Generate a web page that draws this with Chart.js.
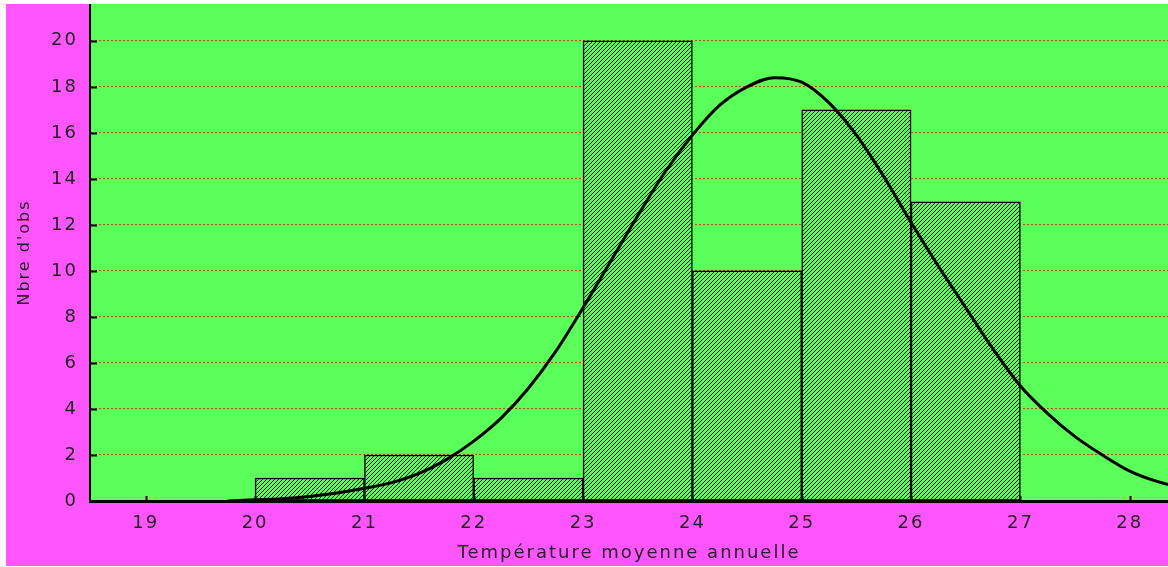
<!DOCTYPE html>
<html>
<head>
<meta charset="utf-8">
<script src="https://cdn.jsdelivr.net/npm/chart.js@4.4.1/dist/chart.umd.min.js"></script>
<style>
    body { margin: 0; background: #ffffff; }
    #wrap { position: absolute; left: 6px; top: 4px; width: 1162px; height: 562px; }
</style>
</head>
<body>
<div id="wrap"><canvas id="histChart" width="1162" height="562"></canvas></div>
<script>
// Histogram classes (lower bound) and counts
const binStarts = [20, 21, 22, 23, 24, 25, 26];
const binCounts = [1, 2, 1, 20, 10, 17, 13];

// Fitted normal curve, values every 0.25 degree
const curveX = [19.75, 20, 20.25, 20.5, 20.75, 21, 21.25, 21.5, 21.75, 22, 22.25, 22.5, 22.75,
    23, 23.25, 23.5, 23.75, 24, 24.25, 24.5, 24.75, 25, 25.25, 25.5, 25.75,
    26, 26.25, 26.5, 26.75, 27, 27.25, 27.5, 27.75, 28, 28.25, 28.5];
const curveY = [0, 0.05, 0.1, 0.2, 0.35, 0.55, 0.8, 1.2, 1.8, 2.6, 3.6, 4.9, 6.5,
    8.4, 10.4, 12.4, 14.3, 15.9, 17.2, 18.0, 18.4, 18.2, 17.3, 15.9, 14.1,
    12.1, 10.2, 8.4, 6.6, 5.0, 3.8, 2.8, 2.0, 1.3, 0.85, 0.55];

// Tick labels
const xTicks = [19, 20, 21, 22, 23, 24, 25, 26, 27, 28];
const yTicks = [0, 2, 4, 6, 8, 10, 12, 14, 16, 18, 20];

const MAGENTA = '#ff55ff';
const GREEN = '#5aff5a';

const canvas = document.getElementById('histChart');
const ctx = canvas.getContext('2d');

// diagonal hatch for the bars
function makeHatch() {
    const tile = document.createElement('canvas');
    tile.width = 4;
    tile.height = 4;
    const g = tile.getContext('2d');
    g.fillStyle = GREEN;
    g.fillRect(0, 0, 4, 4);
    g.fillStyle = '#000000';
    for (let i = 0; i < 4; i++) {
        g.fillRect(i, 3 - i, 1, 1);
    }
    return ctx.createPattern(tile, 'repeat');
}

const backgroundPlugin = {
    id: 'panelBackground',
    beforeDraw(chart) {
        const c = chart.ctx;
        const a = chart.chartArea;
        c.save();
        c.fillStyle = MAGENTA;
        c.fillRect(0, 0, chart.width, chart.height);
        c.fillStyle = GREEN;
        c.fillRect(a.left, a.top, a.right - a.left, a.bottom - a.top);
        c.restore();
        c.letterSpacing = '2px';
    }
};

// small tick marks pointing into the plot
const innerTicksPlugin = {
    id: 'innerTicks',
    afterDatasetsDraw(chart) {
        const c = chart.ctx;
        const a = chart.chartArea;
        const xs = chart.scales.x;
        const ys = chart.scales.y;
        c.save();
        c.strokeStyle = '#000000';
        c.lineWidth = 2;
        c.beginPath();
        yTicks.forEach(v => {
            const py = Math.round(ys.getPixelForValue(v)) + 0.5;
            c.moveTo(a.left, py);
            c.lineTo(a.left + 7, py);
        });
        xTicks.forEach(v => {
            const px = Math.round(xs.getPixelForValue(v)) + 0.5;
            c.moveTo(px, a.bottom);
            c.lineTo(px, a.bottom - 5);
        });
        c.stroke();
        c.restore();
    }
};

const tickFont = { family: 'DejaVu Sans', size: 18 };

new Chart(ctx, {
    type: 'bar',
    data: {
        datasets: [
            {
                type: 'line',
                label: 'Normale',
                data: curveX.map((x, i) => ({ x: x, y: curveY[i] })),
                borderColor: '#000000',
                borderWidth: 3,
                pointRadius: 0,
                cubicInterpolationMode: 'monotone',
                fill: false,
                order: 0
            },
            {
                label: "Nbre d'obs",
                data: binStarts.map((s, i) => ({ x: s + 0.5, y: binCounts[i] })),
                backgroundColor: makeHatch(),
                borderColor: '#000000',
                borderWidth: 1.5,
                borderSkipped: false,
                barPercentage: 1,
                categoryPercentage: 1,
                order: 1
            }
        ]
    },
    plugins: [backgroundPlugin, innerTicksPlugin],
    options: {
        responsive: false,
        animation: false,
        layout: { padding: 0 },
        plugins: {
            legend: { display: false },
            tooltip: { enabled: false }
        },
        scales: {
            x: {
                type: 'linear',
                min: 18.49,
                max: 28.35,
                offset: false,
                afterBuildTicks: s => { s.ticks = xTicks.map(v => ({ value: v })); },
                afterFit: s => {
                    s.height = 65;
                    s.paddingLeft = 0;
                    s.paddingRight = 0;
                },
                grid: { display: false, drawTicks: false, offset: false },
                border: { display: true, color: '#000000', width: 3 },
                ticks: {
                    color: '#222222',
                    font: tickFont,
                    padding: 12,
                    maxRotation: 0,
                    autoSkip: false
                },
                title: {
                    display: true,
                    text: 'Température moyenne annuelle',
                    color: '#222222',
                    font: { family: 'DejaVu Sans', size: 18 },
                    padding: { top: 0, bottom: 2 }
                }
            },
            y: {
                min: 0,
                max: 21.6,
                afterBuildTicks: s => { s.ticks = yTicks.map(v => ({ value: v })); },
                afterFit: s => {
                    s.width = 84;
                    s.paddingTop = 0;
                    s.paddingBottom = 0;
                },
                grid: {
                    drawTicks: false,
                    color: c => (c.tick && c.tick.value === 0) ? 'rgba(0,0,0,0)' : '#b5482a',
                    lineWidth: 1
                },
                border: { display: true, color: '#000000', width: 2, dash: [2, 2] },
                ticks: {
                    color: '#222222',
                    font: tickFont,
                    padding: 12
                },
                title: {
                    display: true,
                    text: "Nbre d'obs",
                    color: '#222222',
                    font: { family: 'DejaVu Sans', size: 16 },
                    padding: { top: 9, bottom: 0 }
                }
            }
        }
    }
});
</script>
</body>
</html>
